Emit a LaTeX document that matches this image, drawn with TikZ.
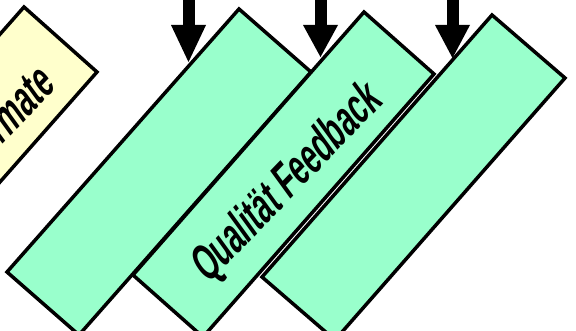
\documentclass[tikz,border=0pt]{standalone}
\usepackage{fontspec}
\setmainfont{Liberation Sans}
\definecolor{mint}{HTML}{99FFCC}
\definecolor{paleyellow}{HTML}{FFFFCC}
\begin{document}
\begin{tikzpicture}[x=1pt,y=1pt,
  boxg/.style={draw=black, line width=3.5pt, line join=miter, fill=mint},
  boxy/.style={draw=black, line width=3.5pt, line join=miter, fill=paleyellow},
  shaft/.style={line width=12pt, draw=black},
  headtip/.style={fill=black},
  lbl/.style={inner sep=0pt, outer sep=0pt, transform shape, font=\fontsize{10pt}{12pt}\selectfont\bfseries}]
\useasboundingbox (0,0) rectangle (576,-331);
\clip (0,0) rectangle (576,-331);
% yellow box
\coordinate (yT) at (24,-7);
\coordinate (yR) at (97,-72);
\coordinate (yB) at (-135,-335);
\coordinate (yL) at (-208,-270);
\draw[boxy] (yT) -- (yR) -- (yB) -- (yL) -- cycle;
\begin{scope}[cm={2.036,2.107,-2.94,4.045,(57,-88)}]
\node[lbl, anchor=base east] (tFormate) at (0,0) {Formate};
\end{scope}
% green box 1
\coordinate (aT) at (239,-9);
\coordinate (aR) at (311,-72);
\coordinate (aB) at (79,-335);
\coordinate (aL) at (7,-272);
\draw[boxg] (aT) -- (aR) -- (aB) -- (aL) -- cycle;
% green box 2
\coordinate (bT) at (364,-12);
\coordinate (bR) at (434,-74);
\coordinate (bB) at (203,-337);
\coordinate (bL) at (133,-275);
\draw[boxg] (bT) -- (bR) -- (bB) -- (bL) -- cycle;
\begin{scope}[cm={2.036,2.107,-2.94,4.045,(208,-285)}]
\node[lbl, anchor=base west] (tQual) at (0,0) {Qualität Feedback};
\end{scope}
% green box 3
\coordinate (cT) at (492,-15);
\coordinate (cR) at (565,-78);
\coordinate (cB) at (335,-340);
\coordinate (cL) at (262,-277);
\draw[boxg] (cT) -- (cR) -- (cB) -- (cL) -- cycle;
% arrows
\coordinate (s1) at (188.5,5);
\coordinate (h1) at (188.5,-26);
\coordinate (t1) at (188.5,-62);
\draw[shaft] (s1) -- (h1);
\fill[headtip] (t1) -- ++(-17.5,37) -- ++(35,0) -- cycle;
\coordinate (s2) at (320.5,5);
\coordinate (h2) at (320.5,-26);
\coordinate (t2) at (320.5,-57);
\draw[shaft] (s2) -- (h2);
\fill[headtip] (t2) -- ++(-17.5,32) -- ++(35,0) -- cycle;
\coordinate (s3) at (452.5,5);
\coordinate (h3) at (452.5,-26);
\coordinate (t3) at (452.5,-58);
\draw[shaft] (s3) -- (h3);
\fill[headtip] (t3) -- ++(-17.5,33) -- ++(35,0) -- cycle;
\end{tikzpicture}
\end{document}
